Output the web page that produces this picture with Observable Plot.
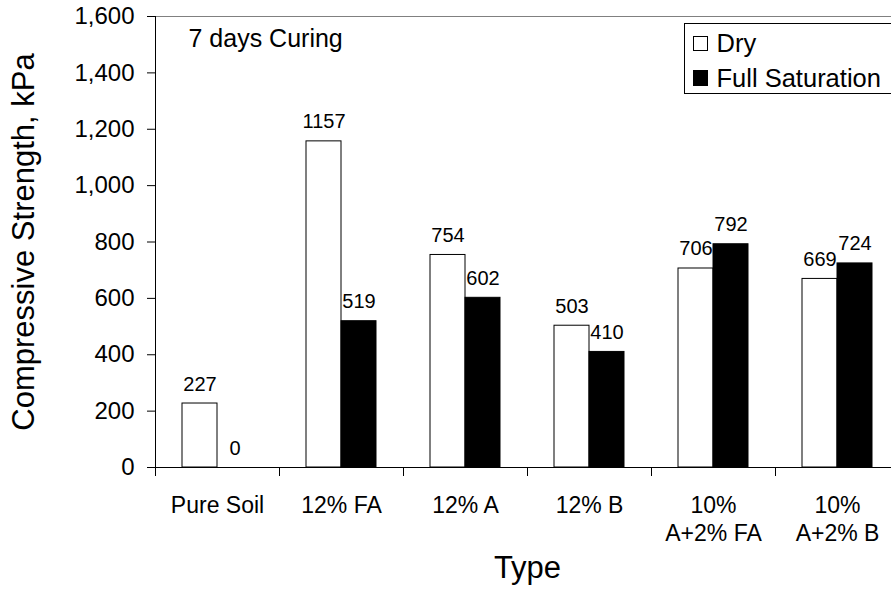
<!DOCTYPE html>
<html>
<head>
<meta charset="utf-8">
<script src="https://cdn.jsdelivr.net/npm/d3@7"></script>
<script src="https://cdn.jsdelivr.net/npm/@observablehq/plot@0.6"></script>
<style>
  html, body { margin: 0; padding: 0; background: white; overflow: hidden; }
  #wrap { width: 891px; height: 590px; overflow: hidden; }
</style>
</head>
<body>
<div id="wrap"></div>
<script>
const categories = ["Pure Soil", "12% FA", "12% A", "12% B", "10% A+2% FA", "10% A+2% B"];
const categoryLabels = ["Pure Soil", "12% FA", "12% A", "12% B", "10%\nA+2% FA", "10%\nA+2% B"];
const series = ["Dry", "Full Saturation"];
const dryValues = [227, 1157, 754, 503, 706, 669];
const satValues = [0, 519, 602, 410, 792, 724];
const yTicks = [0, 200, 400, 600, 800, 1000, 1200, 1400, 1600];
const annotation = "7 days Curing";
const yLabel = "Compressive Strength, kPa";
const xLabel = "Type";

const rows = categories.flatMap((c, i) => [
  {type: c, series: series[0], value: dryValues[i]},
  {type: c, series: series[1], value: satValues[i]}
]);

const chart = Plot.plot({
  width: 900,
  height: 590,
  marginLeft: 154,
  marginRight: 0,
  marginTop: 16,
  marginBottom: 123,
  style: {fontFamily: "'Liberation Sans', Arial, sans-serif", maxWidth: "none", color: "black", background: "white"},
  fx: {domain: categories, padding: 0},
  x: {domain: series, paddingInner: 0, paddingOuter: 0.75, axis: null},
  y: {domain: [0, 1600]},
  color: {domain: series, range: ["white", "black"]},
  marks: [
    Plot.barY(rows, {fx: "type", x: "series", y: "value", fill: "series", stroke: "black", strokeWidth: 1}),
    Plot.text(rows, {fx: "type", x: "series", y: "value", text: d => String(d.value), dy: -13, lineAnchor: "bottom", fontSize: 20, fill: "black"}),
    Plot.frame({anchor: "top", stroke: "#808080"}),
    Plot.frame({anchor: "left", facetAnchor: "left", stroke: "black"}),
    Plot.frame({anchor: "left", insetTop: 451, insetBottom: -8, stroke: "black"}),
    Plot.ruleY([0], {stroke: "black"}),
    Plot.axisY({ticks: yTicks, tickSize: 8, tickPadding: 13, tickFormat: d3.format(","), fontSize: 24, label: null}),
    Plot.axisY({ticks: yTicks, tickSize: 0, tickFormat: () => "", label: yLabel, labelArrow: "none", labelAnchor: "center", labelOffset: 144, fontSize: 31}),
    Plot.axisFx({anchor: "bottom", tickSize: 0, tickPadding: 26, fontSize: 23, lineHeight: 1.217,
      tickFormat: d => categoryLabels[categories.indexOf(d)], label: null}),
    Plot.axisFx({anchor: "bottom", tickSize: 0, tickFormat: () => "", label: xLabel, labelArrow: "none", labelAnchor: "center", labelOffset: 110, fontSize: 31}),
    Plot.text([annotation], {facet: "super", frameAnchor: "top-left", dx: 33, dy: 13, lineAnchor: "top", textAnchor: "start", fontSize: 25, fill: "black"}),
    Plot.frame({facet: "super", insetLeft: 529, insetRight: 5, insetTop: 7, insetBottom: 374, fill: "white", stroke: "black"}),
    Plot.frame({facet: "super", insetLeft: 538, insetRight: 192, insetTop: 20, insetBottom: 417, fill: "white", stroke: "black"}),
    Plot.frame({facet: "super", insetLeft: 538, insetRight: 192, insetTop: 54, insetBottom: 382, fill: "black", stroke: "black"}),
    Plot.text([series[0]], {facet: "super", frameAnchor: "top-left", dx: 561, dy: 27, lineAnchor: "middle", textAnchor: "start", fontSize: 25.5, fill: "black"}),
    Plot.text([series[1]], {facet: "super", frameAnchor: "top-left", dx: 561, dy: 62, lineAnchor: "middle", textAnchor: "start", fontSize: 25.5, fill: "black"})
  ]
});
document.getElementById("wrap").appendChild(chart);
</script>
</body>
</html>
